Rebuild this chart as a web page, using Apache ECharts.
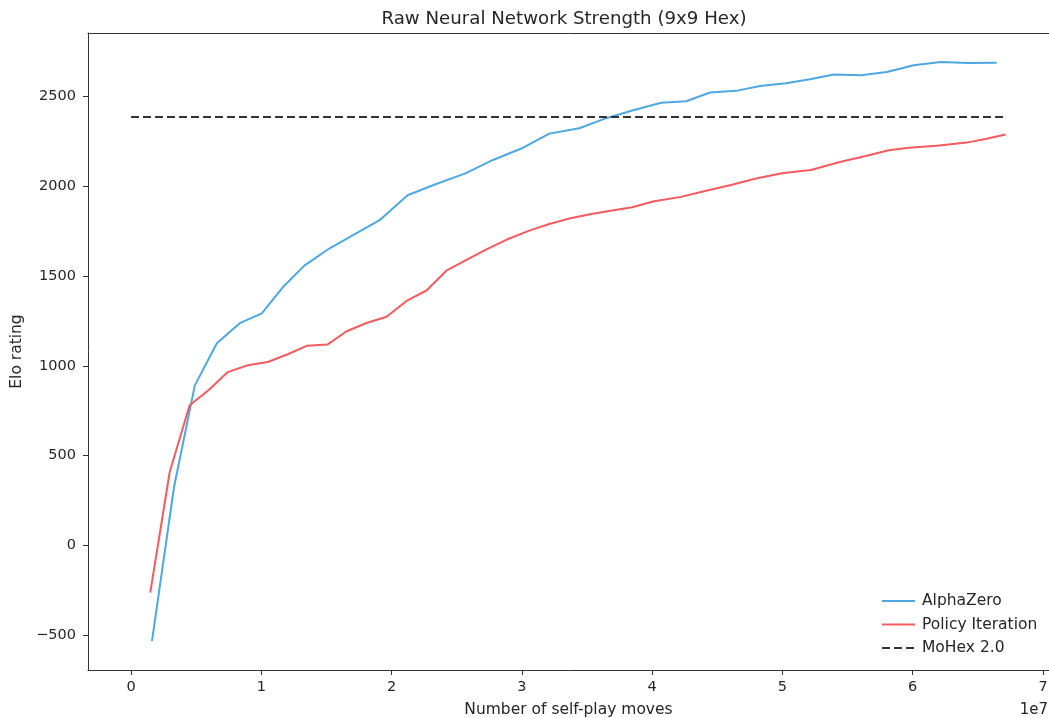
<!DOCTYPE html>
<html>
<head>
<meta charset="utf-8">
<title>Raw Neural Network Strength (9x9 Hex)</title>
<script src="https://cdn.jsdelivr.net/npm/echarts@6/dist/echarts.min.js"></script>
<style>
    html, body { margin: 0; padding: 0; background: #fff; }
    #chart { width: 1049px; height: 718px; }
</style>
</head>
<body>
<div id="chart"></div>
<script>
// self-play moves in units of 1e7 (matplotlib offset notation)
const alphaZeroMoves = [
    0.161, 0.330, 0.490, 0.659, 0.835, 1.004, 1.165, 1.333, 1.525, 1.701,
    1.908, 2.123, 2.337, 2.567, 2.774, 2.996, 3.211, 3.441, 3.648, 3.854,
    4.069, 4.261, 4.444, 4.644, 4.828, 5.027, 5.211, 5.395, 5.602, 5.801,
    6.008, 6.215, 6.429, 6.644
];
const alphaZeroElo = [
    -532, 324, 891, 1125, 1237, 1292, 1437, 1559, 1654, 1726,
    1810, 1949, 2010, 2071, 2144, 2209, 2292, 2322, 2378, 2422,
    2464, 2472, 2521, 2530, 2557, 2572, 2595, 2621, 2617, 2635,
    2673, 2691, 2685, 2686
];

const policyIterMoves = [
    0.148, 0.297, 0.450, 0.595, 0.743, 0.897, 1.050, 1.203, 1.349, 1.510,
    1.655, 1.808, 1.962, 2.115, 2.268, 2.421, 2.575, 2.728, 2.889, 3.057,
    3.211, 3.372, 3.533, 3.693, 3.847, 4.015, 4.222, 4.414, 4.605, 4.797,
    4.996, 5.218, 5.448, 5.640, 5.816, 5.969, 6.184, 6.414, 6.567, 6.713
];
const policyIterElo = [
    -262, 409, 780, 864, 965, 1003, 1021, 1064, 1111, 1119,
    1192, 1238, 1273, 1361, 1419, 1529, 1590, 1648, 1704, 1752,
    1789, 1821, 1845, 1864, 1882, 1916, 1940, 1974, 2006, 2042,
    2071, 2090, 2135, 2167, 2199, 2213, 2224, 2242, 2263, 2287
];

const mohexMoves = [0, 6.713];
const mohexElo = [2385, 2385];

const xTicks = [0, 1, 2, 3, 4, 5, 6, 7];
const yTicks = [-500, 0, 500, 1000, 1500, 2000, 2500];

const FONT = 'DejaVu Sans, sans-serif';
const TEXT_COLOR = '#262626';
const SPINE = '#333';

function zip(xs, ys) {
    return xs.map((x, i) => [x, ys[i]]);
}

const chart = echarts.init(document.getElementById('chart'), null, { renderer: 'canvas' });

const option = {
    animation: false,
    backgroundColor: '#fff',
    textStyle: { fontFamily: FONT },
    title: {
        text: 'Raw Neural Network Strength (9x9 Hex)',
        left: 559,
        top: 5,
        textAlign: 'center',
        textStyle: { fontFamily: FONT, fontSize: 18.2, fontWeight: 'normal', color: TEXT_COLOR }
    },
    grid: {
        left: 88,
        top: 33,
        right: 0,
        height: 637,
        show: false,
        outerBoundsMode: 'none',
        containLabel: false
    },
    xAxis: [
        {
            type: 'value',
            min: -0.33,
            max: 7.046,
            name: 'Number of self-play moves',
            nameLocation: 'middle',
            nameGap: 32,
            nameTextStyle: { fontFamily: FONT, fontSize: 15.5, color: TEXT_COLOR },
            splitLine: { show: false },
            axisLine: { show: true, onZero: false, lineStyle: { color: SPINE, width: 1 } },
            axisTick: { show: true, length: 5, customValues: xTicks, lineStyle: { color: SPINE } },
            axisLabel: {
                customValues: xTicks,
                margin: 10,
                fontFamily: FONT,
                fontSize: 14.5,
                color: TEXT_COLOR,
                formatter: v => String(v)
            }
        },
        {
            // top spine of the axes frame
            type: 'value',
            position: 'top',
            min: -0.33,
            max: 7.046,
            splitLine: { show: false },
            axisLine: { show: true, onZero: false, lineStyle: { color: SPINE, width: 1 } },
            axisTick: { show: false },
            axisLabel: { show: false }
        }
    ],
    yAxis: {
        type: 'value',
        min: -693,
        max: 2852,
        name: 'Elo rating',
        nameLocation: 'middle',
        nameRotate: 90,
        nameGap: 63,
        nameTextStyle: { fontFamily: FONT, fontSize: 15.5, color: TEXT_COLOR },
        splitLine: { show: false },
        axisLine: { show: true, onZero: false, lineStyle: { color: SPINE, width: 1 } },
        axisTick: { show: true, length: 5, customValues: yTicks, lineStyle: { color: SPINE } },
        axisLabel: {
            customValues: yTicks,
            margin: 12,
            fontFamily: FONT,
            fontSize: 14.5,
            color: TEXT_COLOR,
            formatter: v => v < 0 ? '\u2212' + Math.abs(v) : String(v)
        }
    },
    legend: {
        orient: 'vertical',
        left: 876,
        top: 588,
        itemWidth: 33,
        itemHeight: 16,
        itemGap: 7.5,
        itemStyle: { opacity: 0 },
        textStyle: { fontFamily: FONT, fontSize: 15.5, lineHeight: 16, color: TEXT_COLOR, padding: [0, 0, 0, 2] },
        data: ['AlphaZero', 'Policy Iteration', 'MoHex 2.0']
    },
    graphic: [
        {
            type: 'text',
            x: 1048,
            y: 710,
            style: {
                text: '1e7',
                font: '15px ' + FONT,
                fill: TEXT_COLOR,
                align: 'right',
                verticalAlign: 'middle'
            }
        }
    ],
    series: [
        {
            name: 'AlphaZero',
            type: 'line',
            symbol: 'none',
            data: zip(alphaZeroMoves, alphaZeroElo),
            lineStyle: { color: '#4ea7e0', width: 2 },
            itemStyle: { color: '#4ea7e0' }
        },
        {
            name: 'Policy Iteration',
            type: 'line',
            symbol: 'none',
            data: zip(policyIterMoves, policyIterElo),
            lineStyle: { color: '#f35b5e', width: 2 },
            itemStyle: { color: '#f35b5e' }
        },
        {
            name: 'MoHex 2.0',
            type: 'line',
            symbol: 'none',
            data: zip(mohexMoves, mohexElo),
            lineStyle: { color: '#333', width: 2, type: [8, 4] },
            itemStyle: { color: '#333' }
        }
    ]
};

chart.setOption(option);
</script>
</body>
</html>
